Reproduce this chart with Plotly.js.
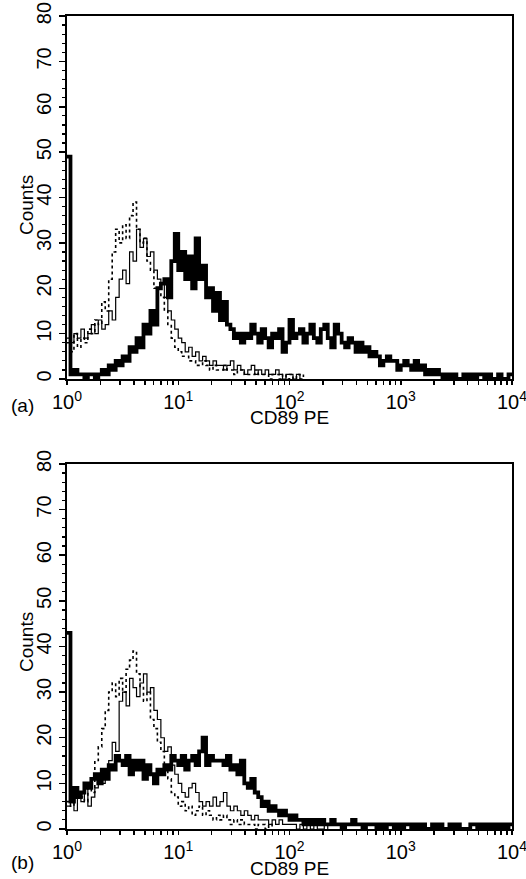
<!DOCTYPE html>
<html><head><meta charset="utf-8">
<script src="https://cdn.plot.ly/plotly-3.0.1.min.js"></script>
<style>html,body{margin:0;padding:0;background:#fff}#chart{width:526px;height:879px}</style>
</head><body><div id="chart"></div><script>
// Histogram channels: 32 channels per decade, channel i sits at 10^(i/32)
const CHANNELS_PER_DECADE = 32;

// Panel (a) counts per channel
const aThick = [49,1,2,1,1,0,1,1,0,1,2,1,3,2,4,3,5,4,7,6,9,7,12,10,15,12,20,21,22,18,26,32,
  24,28,22,27,20,31,22,25,18,20,15,19,13,17,12,11,9,10,8,10,9,12,10,8,11,9,7,10,9,11,6,8,
  13,9,10,11,8,10,12,9,8,11,12,9,7,12,10,8,7,9,8,6,8,6,7,5,6,5,3,4,5,4,4,2,
  3,4,3,2,4,2,3,1,2,1,2,1,0,1,0,1,0,0,1,0,1,0,1,1,0,1,0,0,1,0,0,1,1];
const aThin = [9,8,10,9,11,9,10,12,10,13,11,12,15,13,18,22,24,21,28,26,33,29,31,27,28,24,22,21,18,15,13,11,
  9,8,6,7,5,6,4,5,4,3,4,3,3,2,3,4,2,3,2,1,2,3,1,2,1,2,1,1,2,1,0,1,
  1,0,1,0];
const aDotted = [8,6,10,7,9,8,11,10,13,12,17,15,22,28,33,30,34,31,36,39,33,30,31,26,24,20,19,18,15,12,9,7,
  6,5,5,4,4,3,3,4,3,2,3,2,2,3,2,2,1,2,2,1,1,1,2,1,1,1,0,1,1,0,1,0,
  1,0,1,0,1];

// Panel (b) counts per channel
const bThick = [43,6,9,7,8,10,9,11,12,10,13,11,14,13,16,15,14,16,12,15,13,15,11,14,12,10,13,12,14,13,16,15,
  14,16,13,15,16,14,17,20,14,16,15,15,15,14,16,13,14,12,15,10,9,11,8,7,5,6,4,5,4,3,4,3,
  2,3,2,2,1,2,1,2,1,2,1,1,2,1,1,0,1,1,2,1,1,0,1,1,1,0,1,0,1,1,0,1,
  0,1,1,0,1,0,1,0,0,1,0,1,0,0,1,0,1,0,0,0,1,1,0,1,0,1,0,1,0,1,0,1,1];
const bThin = [5,7,4,8,6,9,5,7,9,11,10,13,15,19,17,28,30,27,33,31,29,32,34,30,31,26,24,20,17,18,14,12,
  10,8,7,9,10,8,6,5,6,5,7,5,6,8,5,4,5,4,3,4,3,2,3,2,2,2,1,2,1,2,1,1,
  1,1,0,1,0,1,0,1,0,0,1,0];
const bDotted = [6,5,7,8,7,6,9,8,15,18,22,26,30,32,29,33,30,35,37,39,34,31,28,30,24,22,19,17,13,11,8,7,
  5,6,4,5,3,4,5,3,4,3,2,3,2,3,2,1,2,1,2,1,1,1,0,1,1,0,1,0];

const decadeTicks = [1, 10, 100, 1000, 10000];
const decadeLabels = ['10<sup>0</sup>', '10<sup>1</sup>', '10<sup>2</sup>', '10<sup>3</sup>', '10<sup>4</sup>'];
const axisTitleX = 'CD89 PE';
const axisTitleY = 'Counts';
const panelLabels = ['(a)', '(b)'];

function channelX(n) {
  const xs = [];
  for (let i = 0; i < n; i++) xs.push(Math.pow(10, i / CHANNELS_PER_DECADE));
  return xs;
}
// log axis ticks: decades (labelled) and 2..9 within each decade (unlabelled)
const tickvals = [], ticktext = [];
decadeTicks.forEach((d, k) => {
  tickvals.push(d); ticktext.push(decadeLabels[k]);
  if (k < decadeTicks.length - 1) for (let m = 2; m <= 9; m++) { tickvals.push(d * m); ticktext.push(''); }
});

function tr(y, xa, ya, style) {
  const base = {x: channelX(y.length), y: y, xaxis: xa, yaxis: ya, mode: 'lines', line: {shape: 'hv', color: '#000'}, hoverinfo: 'skip', showlegend: false};
  if (style === 'thick') base.line.width = 3.8;
  if (style === 'thin') base.line.width = 1.2;
  if (style === 'dot') { base.line.width = 1.6; base.line.dash = 'dot'; }
  return base;
}
const data = [
  tr(aDotted, 'x', 'y', 'dot'), tr(aThin, 'x', 'y', 'thin'), tr(aThick, 'x', 'y', 'thick'),
  tr(bDotted, 'x2', 'y2', 'dot'), tr(bThin, 'x2', 'y2', 'thin'), tr(bThick, 'x2', 'y2', 'thick')
];

const FAM = '"Liberation Sans", Arial, sans-serif';
const FONT = {family: FAM, size: 19, color: '#000'};
const XTICKFONT = {family: FAM, size: 20, color: '#000'};
const YTICKFONT = {family: FAM, size: 20, color: '#000'};
function xAxis(anchor) {
  return {type: 'log', range: [0, 4], anchor: anchor, tickmode: 'array', tickvals: tickvals, ticktext: ticktext,
    ticks: 'outside', ticklen: 4, tickwidth: 1.5, tickcolor: '#000', tickangle: 0, ticklabeloverflow: 'allow',
    showline: true, linewidth: 2, linecolor: '#000', mirror: true, showgrid: false, zeroline: false,
    tickfont: XTICKFONT};
}
function yAxis(anchor, domain) {
  return {range: [0, 80], domain: domain, anchor: anchor, dtick: 10, tickangle: -90,
    ticks: 'outside', ticklen: 6, tickwidth: 1.5, tickcolor: '#000',
    minor: {dtick: 2, ticks: 'outside', ticklen: 3, tickwidth: 1.2, tickcolor: '#000', showgrid: false},
    showline: true, linewidth: 2, linecolor: '#000', mirror: true, showgrid: false, zeroline: false,
    tickfont: YTICKFONT};
}
function note(text, x, y, angle) {
  return {text: text, xref: 'paper', yref: 'paper', x: x, y: y, showarrow: false, font: FONT,
    xanchor: 'center', yanchor: 'middle', textangle: angle || 0};
}
const layout = {
  width: 526, height: 879, margin: {l: 67, r: 14, t: 16, b: 50},
  paper_bgcolor: '#fff', plot_bgcolor: '#fff', font: FONT,
  xaxis: xAxis('y'), yaxis: yAxis('x', [0.5535, 1]),
  xaxis2: xAxis('y2'), yaxis2: yAxis('x2', [0, 0.449]),
  annotations: [
    note(panelLabels[0], -0.101, 0.5215),
    note(panelLabels[1], -0.101, -0.0406),
    note(axisTitleX, 0.501, 0.5065),
    note(axisTitleX, 0.501, -0.0483),
    note(axisTitleY, -0.0921, 0.7675, -90),
    note(axisTitleY, -0.0921, 0.230, -90)
  ]
};
Plotly.newPlot('chart', data, layout, {staticPlot: true, displayModeBar: false});
</script></body></html>
